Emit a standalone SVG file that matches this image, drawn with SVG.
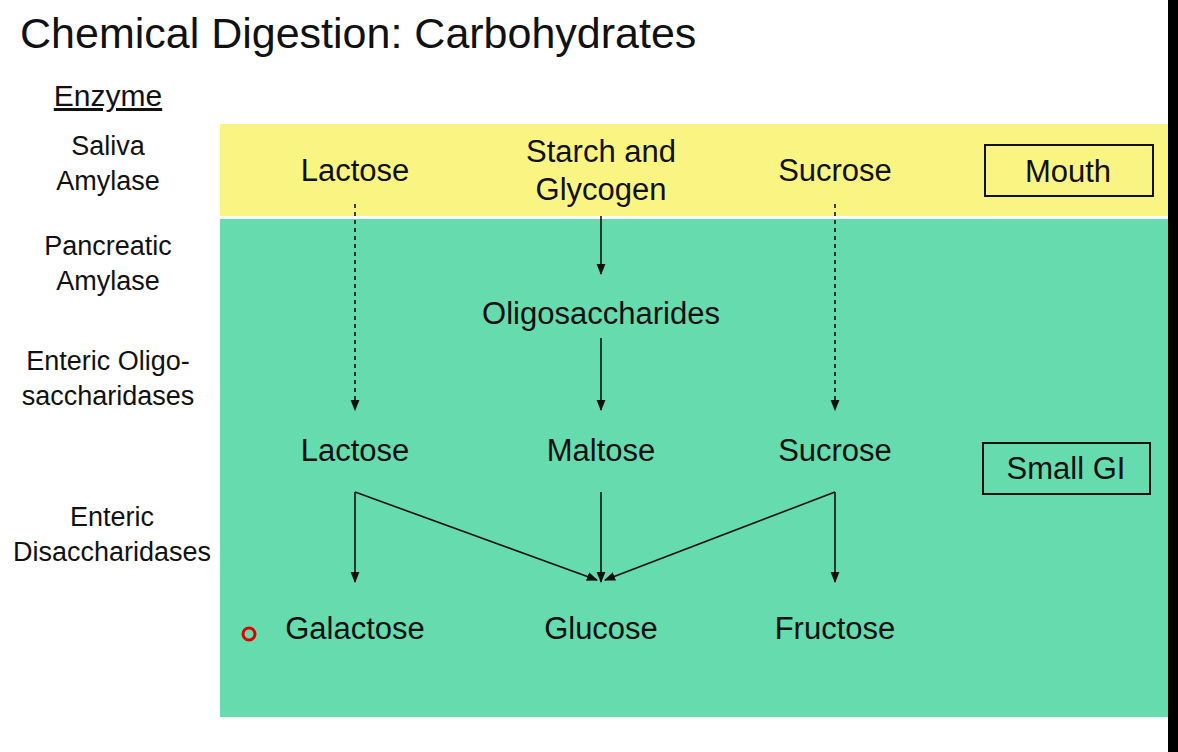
<svg xmlns="http://www.w3.org/2000/svg" width="1178" height="752" viewBox="0 0 1178 752">
<defs>
<style>
text{font-family:"Liberation Sans",Arial,sans-serif;fill:#111}
.t{font-size:31px;text-anchor:middle}
.l{font-size:27px;text-anchor:middle}
.c line{stroke:#111;stroke-width:1.6;fill:none}
.d{stroke-dasharray:4 4}
</style>
<marker id="a" viewBox="0 0 10 10" refX="9" refY="5" markerWidth="7" markerHeight="7" orient="auto"><path d="M0,1 L10,5 L0,9 z" fill="#111"/></marker>
</defs>
<rect width="1178" height="752" fill="#fff"/>
<rect x="1168" y="0" width="10" height="752" fill="#000"/>
<rect x="220" y="124" width="948" height="92" fill="#faf582"/>
<rect x="220" y="219" width="948" height="498" fill="#66dbae"/>
<text x="20" y="48" style="font-size:43px">Chemical Digestion: Carbohydrates</text>
<text x="108" y="106" class="l" text-decoration="underline" style="font-size:30px">Enzyme</text>
<g id="enzymes">
<text x="108" y="155" class="l">Saliva</text><text x="108" y="190" class="l">Amylase</text>
<text x="108" y="255" class="l">Pancreatic</text><text x="108" y="290" class="l">Amylase</text>
<text x="108" y="370" class="l">Enteric Oligo-</text><text x="108" y="405" class="l">saccharidases</text>
<text x="112" y="526" class="l">Enteric</text><text x="112" y="561" class="l">Disaccharidases</text>
</g>
<g id="mouth"><rect x="985" y="145" width="168" height="51" fill="none" stroke="#111" stroke-width="2"/><text x="1068" y="182" class="t">Mouth</text></g>
<g id="smallgi"><rect x="983" y="443" width="167" height="51" fill="none" stroke="#111" stroke-width="2"/><text x="1066" y="479" class="t">Small GI</text></g>
<g id="lactose1"><text x="355" y="181" class="t">Lactose</text></g>
<g id="starch"><text x="601" y="162" class="t">Starch and</text><text x="601" y="200" class="t">Glycogen</text></g>
<g id="sucrose1"><text x="835" y="181" class="t">Sucrose</text></g>
<g id="oligo"><text x="601" y="324" class="t">Oligosaccharides</text></g>
<g id="lactose2"><text x="355" y="461" class="t">Lactose</text></g>
<g id="maltose"><text x="601" y="461" class="t">Maltose</text></g>
<g id="sucrose2"><text x="835" y="461" class="t">Sucrose</text></g>
<g id="galactose"><text x="355" y="639" class="t">Galactose</text></g>
<g id="glucose"><text x="601" y="639" class="t">Glucose</text></g>
<g id="fructose"><text x="835" y="639" class="t">Fructose</text></g>
<g class="c">
<line x1="355" y1="204" x2="355" y2="410" class="d" marker-end="url(#a)"/>
<line x1="835" y1="204" x2="835" y2="410" class="d" marker-end="url(#a)"/>
<line x1="601" y1="216" x2="601" y2="274" marker-end="url(#a)"/>
<line x1="601" y1="338" x2="601" y2="410" marker-end="url(#a)"/>
<line x1="601" y1="492" x2="601" y2="582" marker-end="url(#a)"/>
<line x1="355" y1="492" x2="355" y2="582" marker-end="url(#a)"/>
<line x1="835" y1="492" x2="835" y2="582" marker-end="url(#a)"/>
<line x1="355" y1="492" x2="597" y2="580" marker-end="url(#a)"/>
<line x1="835" y1="492" x2="605" y2="580" marker-end="url(#a)"/>
</g>
<circle cx="249" cy="634" r="6" fill="none" stroke="#d00" stroke-width="3"/>
</svg>
